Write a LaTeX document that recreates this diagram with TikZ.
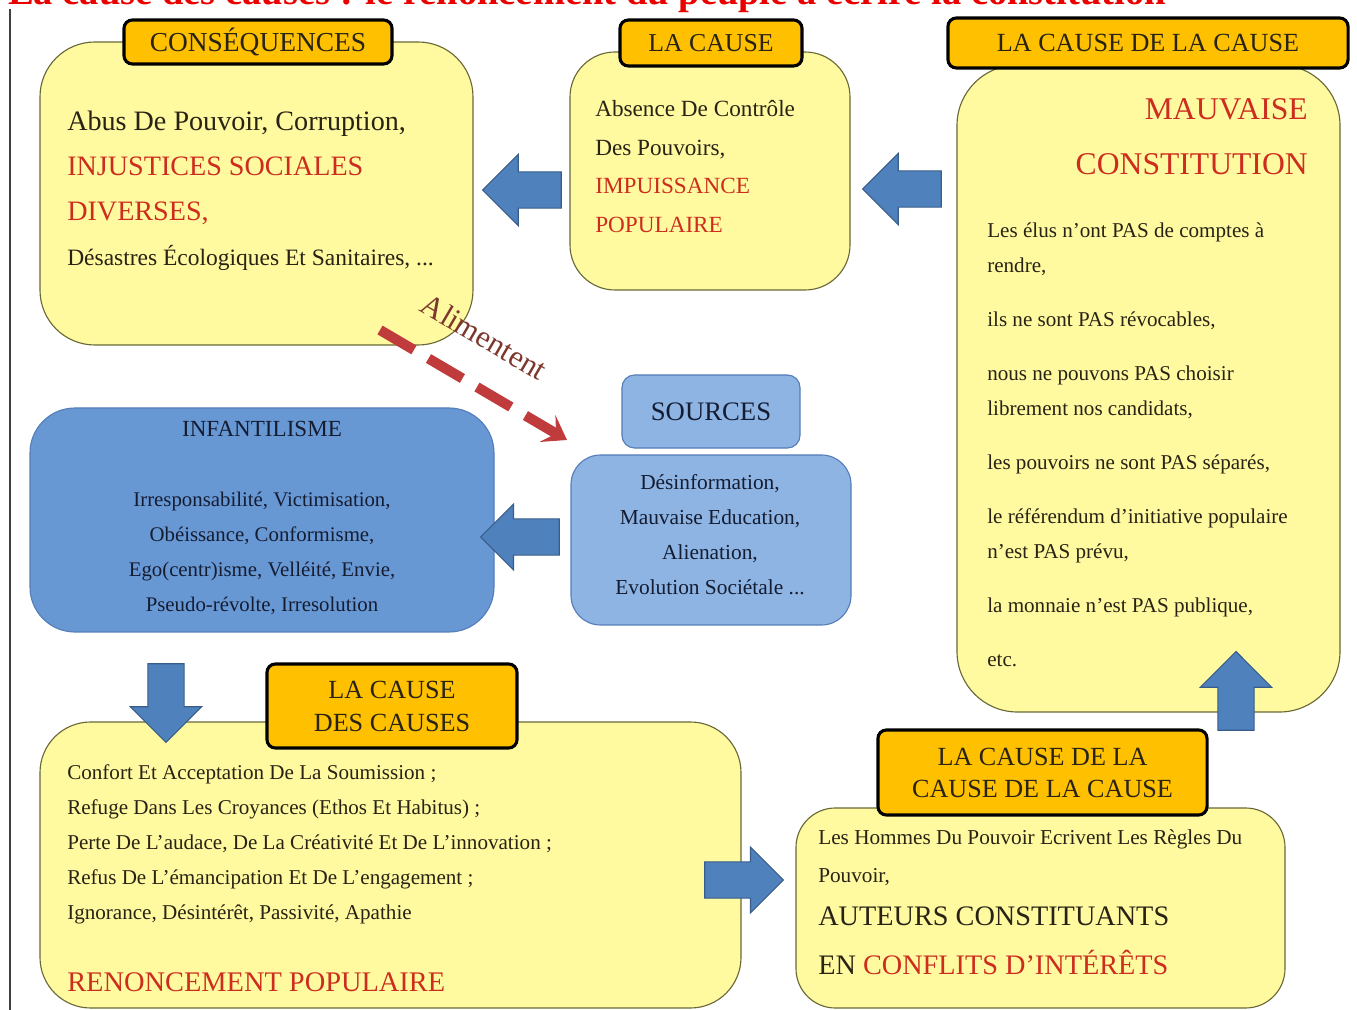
\documentclass[tikz,border=0pt]{standalone}
\usepackage{fontspec}
\setmainfont{Liberation Serif}
\usetikzlibrary{shapes.arrows,fit,arrows.meta}

\definecolor{boxyellow}{RGB}{255,250,160}
\definecolor{boxedge}{RGB}{105,105,55}
\definecolor{tabgold}{RGB}{255,192,0}
\definecolor{arrowblue}{RGB}{79,129,189}
\definecolor{arrowedge}{RGB}{56,93,138}
\definecolor{infblue}{RGB}{104,152,212}
\definecolor{srcblue}{RGB}{142,180,227}
\definecolor{blueedge}{RGB}{85,125,185}
\definecolor{txtred}{RGB}{205,45,30}
\definecolor{txtdark}{RGB}{40,35,20}
\definecolor{txtnavy}{RGB}{20,28,50}
\definecolor{dashred}{RGB}{192,60,60}
\definecolor{alimcol}{RGB}{125,55,45}
\definecolor{titlered}{RGB}{235,0,0}

\newcommand{\fsz}[2]{\fontsize{#1}{#2}\selectfont}

\begin{document}
\begin{tikzpicture}[x=0.025cm,y=-0.025cm]

% definitions
\tikzstyle{ybox} = [rectangle, rounded corners=36pt, draw=boxedge, line width=0.8pt, fill=boxyellow, inner sep=0pt]
\tikzstyle{bbox} = [rectangle, rounded corners=30pt, draw=blueedge, line width=0.8pt, fill=infblue, inner sep=0pt]
\tikzstyle{gtab} = [rectangle, rounded corners=6pt, draw=black, line width=2.2pt, fill=tabgold, inner sep=0pt, text=txtdark, align=center]
\tikzstyle{barrow} = [single arrow, draw=arrowedge, line width=0.8pt, fill=arrowblue, minimum height=56pt, inner sep=12.5pt, single arrow head extend=12.5pt]
\tikzstyle{txt} = [inner sep=0pt, text=txtdark]
\tikzstyle{dasharrow} = [-{Stealth[length=16pt,width=22pt,inset=7pt]}, draw=dashred, line width=7.2pt, dash pattern=on 28pt off 12pt]

\useasboundingbox (0,0) rectangle (1357,1010);

% title, cut by the page top
\node[anchor=base west, inner sep=0pt, text=titlered, font=\fsz{27.4}{30}\bfseries] (title) at (8,5) {La cause des causes : le renoncement du peuple à écrire la constitution};
\draw[line width=2pt, black!75] (10,9) -- (10,1010);

% the boxes
\node (conseq) [ybox, rounded corners=39pt, fit={(40,42) (473,345)}] {};
\node (cause) [ybox, rounded corners=32pt, fit={(570,52) (850,290)}] {};
\node (cause2) [ybox, rounded corners=43pt, fit={(957,65) (1340,712)}] {};
\node (infant) [bbox, rounded corners=32pt, fit={(30,408) (494,632)}] {};
\node (srcbox) [bbox, fill=srcblue, rounded corners=21pt, fit={(571,455) (851,625)}] {};
\node (srctab) [bbox, fill=srcblue, rounded corners=9pt, minimum width=4.45cm, minimum height=1.825cm, text=txtnavy, font=\fsz{19}{22}] at (711,411.5) {SOURCES};
\node (causes) [ybox, rounded corners=36pt, fit={(40,722) (741,1008)}] {};
\node (cause3) [ybox, rounded corners=28pt, fit={(796,808) (1285,1008)}] {};

% the tabs
\node (conseqtab) [gtab, minimum width=6.7cm, minimum height=1.1cm, font=\fsz{19.5}{22}] at (258,42) {CONSÉQUENCES};
\node (causetab) [gtab, minimum width=4.55cm, minimum height=1.15cm, font=\fsz{18.3}{22}] at (711,43) {LA CAUSE};
\node (cause2tab) [gtab, minimum width=10cm, minimum height=1.25cm, font=\fsz{18.6}{22}] at (1148,43) {LA CAUSE DE LA CAUSE};
\node (causestab) [gtab, minimum width=6.25cm, minimum height=2.1cm, font=\fsz{18.6}{23.5}] at (392,706) {LA CAUSE\\DES CAUSES};
\node (cause3tab) [gtab, minimum width=8.225cm, minimum height=2.125cm, font=\fsz{18.6}{22.8}] at (1042.5,772.5) {LA CAUSE DE LA\\CAUSE DE LA CAUSE};

% the texts
\node (conseqtxt) [txt, anchor=north west, align=left, font=\fsz{20}{32}] at (67,111) {Abus De Pouvoir, Corruption,\\
\textcolor{txtred}{INJUSTICES SOCIALES}\\
\textcolor{txtred}{DIVERSES,}\\
{\fsz{16.7}{32}Désastres Écologiques Et Sanitaires, ...}};

\node (causetxt) [txt, anchor=north west, align=left, font=\fsz{16.5}{27.5}] at (595,100) {Absence De Contrôle\\
Des Pouvoirs,\\
\textcolor{txtred}{IMPUISSANCE}\\
\textcolor{txtred}{POPULAIRE}};

\node (cause2head) [txt, anchor=north east, align=right, text=txtred, font=\fsz{22.5}{39}] at (1308,98) {MAUVAISE\\CONSTITUTION};
\node (cause2txt) [txt, anchor=north west, align=left, font=\fsz{15}{24.9}] at (987,223) {Les élus n'ont PAS de comptes à\\
rendre,\\[13.5pt]
ils ne sont PAS révocables,\\[13.5pt]
nous ne pouvons PAS choisir\\
librement nos candidats,\\[13.5pt]
les pouvoirs ne sont PAS séparés,\\[13.5pt]
le référendum d'initiative populaire\\
n'est PAS prévu,\\[13.5pt]
la monnaie n'est PAS publique,\\[13.5pt]
etc.};

\node (infanttxt) [txt, anchor=north, align=center, text=txtnavy, font=\fsz{14.8}{24.9}] at (262,421) {{\fsz{16.4}{24.9}INFANTILISME}\\[24.5pt]
Irresponsabilité, Victimisation,\\
Obéissance, Conformisme,\\
Ego(centr)isme, Velléité, Envie,\\
Pseudo-révolte, Irresolution};

\node (srctxt) [txt, anchor=north, align=center, text=txtnavy, font=\fsz{15.2}{24.9}] at (710,474) {Désinformation,\\
Mauvaise Education,\\
Alienation,\\
Evolution Sociétale ...};

\node (causestxt) [txt, anchor=north west, align=left, font=\fsz{15}{24.9}] at (67,764) {Confort Et Acceptation De La Soumission ;\\
Refuge Dans Les Croyances (Ethos Et Habitus) ;\\
Perte De L'audace, De La Créativité Et De L'innovation ;\\
Refus De L'émancipation Et De L'engagement ;\\
Ignorance, Désintérêt, Passivité, Apathie\\[26.7pt]
{\fsz{20.2}{24.9}\color{txtred}RENONCEMENT POPULAIRE}};

\node (cause3txt) [txt, anchor=north west, align=left, font=\fsz{15.1}{27}] at (818,829) {Les Hommes Du Pouvoir Ecrivent Les Règles Du\\
Pouvoir,\\[4pt]
{\fsz{20.1}{27}AUTEURS CONSTITUANTS}\\[8pt]
{\fsz{20.1}{27}EN \textcolor{txtred}{CONFLITS D'INTÉRÊTS}}};

% the block arrows
\node (a21) [barrow, rotate=180] at (531,190) {};
\node (a32) [barrow, rotate=180] at (911,189) {};
\node (asrc) [barrow, rotate=180, single arrow head extend=10.5pt] at (529,537) {};
\node (adown) [barrow, rotate=-90] at (166,694) {};
\node (aright) [barrow, single arrow head extend=10.5pt] at (735,880) {};
\node (aup) [barrow, rotate=90] at (1236,700) {};

% the dashed arrow
\coordinate (alimstart) at (380,330);
\coordinate (alimend) at (567,440);
\draw [dasharrow] (alimstart) -- node [pos=0.43, sloped, above=22pt, inner sep=0pt, text=alimcol, font=\fsz{22}{24}] {Alimentent} (alimend);

\end{tikzpicture}
\end{document}
